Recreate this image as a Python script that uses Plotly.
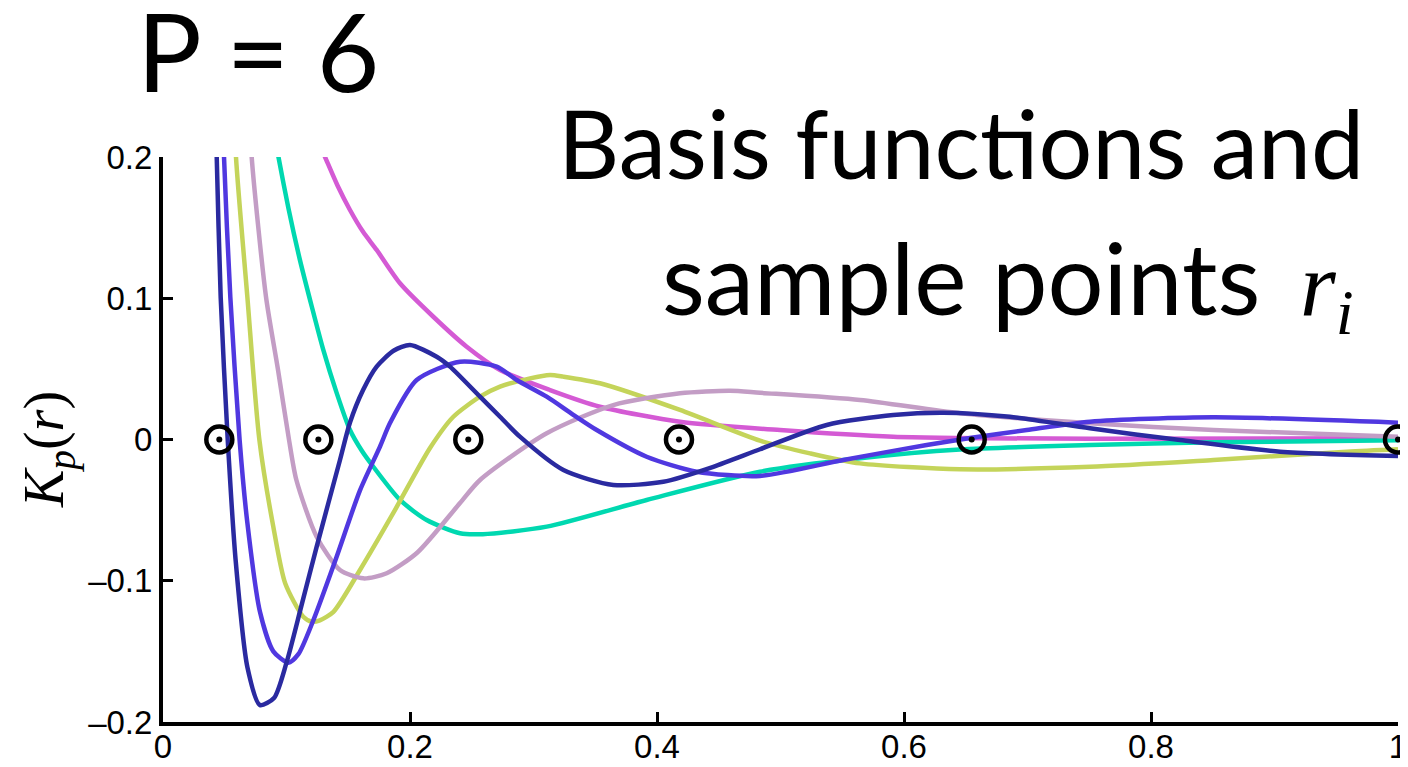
import plotly.graph_objects as go

# ---------------- data ----------------
navy_x = [0.0405, 0.0435, 0.0467, 0.0524, 0.0588, 0.0683, 0.0785, 0.0899, 0.100, 0.112,
          0.1244, 0.1433, 0.1514, 0.162, 0.173, 0.187, 0.200, 0.2216, 0.2324, 0.2567,
          0.2729, 0.289, 0.3242, 0.3646, 0.4051, 0.4456, 0.4834, 0.5374, 0.5913, 0.6318,
          0.6858, 0.7506, 0.8235, 0.9045, 1.0]
navy_y = [0.30, 0.2, 0.101, 0.0, -0.0853, -0.161, -0.188, -0.183, -0.158, -0.118,
          -0.076, -0.0145, 0.012, 0.035, 0.0516, 0.063, 0.0669, 0.0586, 0.0516, 0.0303,
          0.0161, 0.002, -0.0216, -0.0322, -0.0299, -0.0193, -0.0069, 0.0103, 0.0173, 0.019,
          0.0161, 0.0079, -0.0004, -0.0086, -0.0117]

violet_x = [0.047, 0.0494, 0.0545, 0.062, 0.0683, 0.0785, 0.0893, 0.1015, 0.1096, 0.1217,
            0.1406, 0.1595, 0.1757, 0.184, 0.2054, 0.2405, 0.2702, 0.2864, 0.3107, 0.3322,
            0.3512, 0.3916, 0.4321, 0.4834, 0.5509, 0.6184, 0.6548, 0.6994, 0.7506, 0.8505, 1.0]
violet_y = [0.29, 0.2, 0.101, 0.0, -0.059, -0.122, -0.150, -0.158, -0.152, -0.128,
            -0.083, -0.036, -0.005, 0.012, 0.0421, 0.0551, 0.0516, 0.0421, 0.0303, 0.0175,
            0.0067, -0.0122, -0.0228, -0.0258, -0.0145, -0.0039, 0.0012, 0.0067, 0.0126, 0.0157, 0.0119]

lime_x = [0.0565, 0.0591, 0.0683, 0.078, 0.0893, 0.099, 0.1136, 0.1205, 0.127, 0.138,
          0.1595, 0.1865, 0.2162, 0.2351, 0.2567, 0.2729, 0.2972, 0.3134, 0.3242, 0.3538,
          0.4186, 0.4834, 0.5239, 0.5644, 0.6453, 0.7506, 0.8505, 0.9585, 1.0]
lime_y = [0.26, 0.2, 0.101, 0.0, -0.0617, -0.102, -0.1255, -0.129, -0.128, -0.122,
          -0.0924, -0.052, -0.006, 0.0161, 0.0303, 0.0374, 0.0433, 0.0457, 0.0445, 0.0398,
          0.0209, -0.0008, -0.0098, -0.0169, -0.0211, -0.0193, -0.0145, -0.0086, -0.0069]

mauve_x = [0.069, 0.0718, 0.0834, 0.093, 0.102, 0.108, 0.1244, 0.1433, 0.1622, 0.1811,
           0.206, 0.2405, 0.2567, 0.3107, 0.3646, 0.4186, 0.4591, 0.4834, 0.5644, 0.6453,
           0.7506, 0.8505, 1.0]
mauve_y = [0.25, 0.2, 0.101, 0.05, 0.0, -0.0287, -0.0688, -0.0924, -0.0983, -0.0947,
           -0.080, -0.045, -0.0287, 0.0044, 0.0244, 0.0327, 0.0345, 0.0331, 0.028, 0.0186,
           0.0115, 0.0067, 0.002]

teal_x = [0.0905, 0.0935, 0.1015, 0.1109, 0.1205, 0.1298, 0.1406, 0.1514, 0.161, 0.1703,
          0.1919, 0.2135, 0.2405, 0.259, 0.3107, 0.3916, 0.4834, 0.5644, 0.6453, 0.7506,
          0.8505, 1.0]
teal_y = [0.215, 0.2, 0.164, 0.127, 0.094, 0.0634, 0.033, 0.0067, -0.008, -0.0193,
          -0.0428, -0.057, -0.0664, -0.067, -0.0617, -0.0428, -0.0228, -0.0133, -0.0071, -0.0039,
          -0.002, -0.0006]

magenta_x = [0.125, 0.1312, 0.1412, 0.1514, 0.162, 0.173, 0.1919, 0.2189, 0.2459, 0.2729,
             0.3134, 0.3538, 0.4186, 0.4996, 0.5913, 0.7506, 1.0]
magenta_y = [0.2124, 0.2, 0.180, 0.1625, 0.147, 0.1342, 0.1106, 0.0869, 0.0657, 0.0492,
             0.035, 0.0232, 0.0126, 0.0067, 0.002, 0.0005, 0.0008]

sample_r = [0.0456, 0.1258, 0.2472, 0.4178, 0.6548, 1.0]
sample_k = [0, 0, 0, 0, 0, 0]

x_tickvals = [0, 0.2, 0.4, 0.6, 0.8, 1]
x_ticktext = ["0", "0.2", "0.4", "0.6", "0.8", "1"]
y_tickvals = [-0.2, -0.1, 0, 0.1, 0.2]
y_ticktext = ["\u20130.2", "\u20130.1", "0", "0.1", "0.2"]

curves = [
    (magenta_x, magenta_y, "#d45ad4"),
    (teal_x, teal_y, "#00d8b0"),
    (lime_x, lime_y, "#c4d45a"),
    (mauve_x, mauve_y, "#c39dc5"),
    (violet_x, violet_y, "#5038e0"),
    (navy_x, navy_y, "#2a2aa0"),
]

fig = go.Figure()
for cx, cy, col in curves:
    fig.add_trace(go.Scatter(x=cx, y=cy, mode="lines",
                             line=dict(color=col, width=4.5, shape="spline", smoothing=0.7),
                             hoverinfo="skip"))

# sample points: open ring plus a small centre dot
fig.add_trace(go.Scatter(x=sample_r, y=sample_k, mode="markers", cliponaxis=False,
                         marker=dict(symbol="circle-open", size=26, color="black",
                                     line=dict(width=4.5, color="black"))))
fig.add_trace(go.Scatter(x=sample_r, y=sample_k, mode="markers", cliponaxis=False,
                         marker=dict(symbol="circle", size=6, color="black",
                                     line=dict(width=0))))

# the page body has an 8px margin, so the figure starts at (8, 8) in the window
OFF = 8
W, H = 1400, 759
L, R, T, B = 155, 10, 149, 45
pw, ph = W - L - R, H - T - B


def px(x):
    return (x - OFF - L) / pw


def py(y):
    return (H - B - (y - OFF)) / ph


tick_font = dict(family="Liberation Sans, Arial, Helvetica", size=33, color="black")
fig.update_layout(
    width=W, height=H,
    margin=dict(l=L, r=R, t=T, b=B, pad=0, autoexpand=False),
    plot_bgcolor="white", paper_bgcolor="white",
    showlegend=False,
    xaxis=dict(range=[0, 1], tickvals=x_tickvals, ticktext=x_ticktext,
               ticks="inside", ticklen=10, tickwidth=3, tickcolor="black",
               showline=True, linewidth=4, linecolor="black", automargin=False,
               showgrid=False, zeroline=False, tickfont=tick_font,
               ticklabelstandoff=-8),
    yaxis=dict(range=[-0.2, 0.2], tickvals=y_tickvals, ticktext=y_ticktext,
               ticks="inside", ticklen=10, tickwidth=3, tickcolor="black",
               showline=True, linewidth=4, linecolor="black", automargin=False,
               showgrid=False, zeroline=False, tickfont=tick_font,
               ticklabelstandoff=0),
)

title_font = "Lato, Noto Sans, sans-serif"
fig.add_annotation(text="P = 6", xref="paper", yref="paper",
                   x=px(135), y=py(50), xanchor="left", yanchor="middle",
                   showarrow=False, font=dict(family=title_font, size=108, color="black"))
fig.add_annotation(text="Basis func\u200ctions and", xref="paper", yref="paper",
                   x=px(1366), y=py(142), xanchor="right", yanchor="middle",
                   showarrow=False, font=dict(family=title_font, size=95, color="black"))
fig.add_annotation(text="sample points", xref="paper", yref="paper",
                   x=px(1262), y=py(276), xanchor="right", yanchor="middle",
                   showarrow=False, font=dict(family=title_font, size=99, color="black"))
fig.add_annotation(text="<i>r</i><sub><i>i</i></sub>", xref="paper", yref="paper",
                   x=px(1298), y=py(290), xanchor="left", yanchor="middle",
                   showarrow=False, font=dict(family="Liberation Serif, DejaVu Serif, serif",
                                              size=92, color="black"))
fig.add_annotation(text="<i>K</i><sub><i>p</i></sub>(<i>r</i>)", xref="paper", yref="paper",
                   x=px(48), y=py(450), xanchor="center", yanchor="middle", textangle=-90,
                   showarrow=False, font=dict(family="Liberation Serif, DejaVu Serif, serif",
                                              size=56, color="black"))

fig.write_html("out.html")
